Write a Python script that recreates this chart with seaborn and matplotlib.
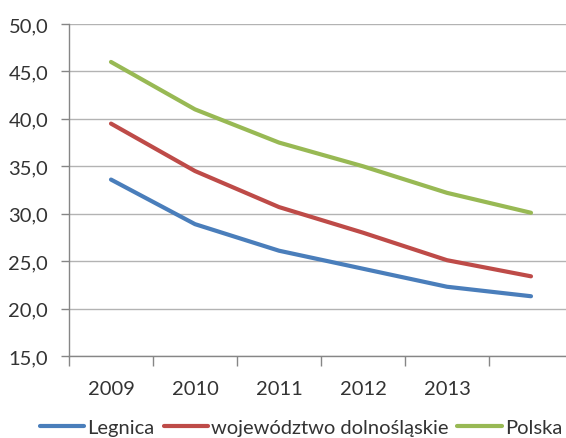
import matplotlib
matplotlib.use("Agg")
import matplotlib.pyplot as plt
import seaborn as sns
import pandas as pd
import numpy as np

categories = ["2009", "2010", "2011", "2012", "2013", ""]
legnica = [33.6, 28.9, 26.1, 24.2, 22.3, 21.3]
dolnoslaskie = [39.5, 34.5, 30.7, 28.0, 25.1, 23.4]
polska = [46.0, 41.0, 37.5, 35.0, 32.2, 30.1]
series_names = ["Legnica", "województwo dolnośląskie", "Polska"]
colors = ["#4A7EBB", "#BE4B48", "#98B954"]
yticks = [15, 20, 25, 30, 35, 40, 45, 50]

sns.set_theme(style="white")
plt.rcParams["font.family"] = ["Lato", "DejaVu Sans"]

rows = []
for name, vals in zip(series_names, [legnica, dolnoslaskie, polska]):
    for i, v in enumerate(vals):
        rows.append({"idx": i, "value": v, "series": name})
df = pd.DataFrame(rows)

fig = plt.figure(figsize=(5.66, 4.39), dpi=100)
W, H = 566, 439
left, right, top, bottom = 69, 573, 25, 357
ax = fig.add_axes([left / W, 1 - bottom / H, (right - left) / W, (bottom - top) / H])

sns.lineplot(data=df, x="idx", y="value", hue="series", hue_order=series_names,
             palette=colors, linewidth=3, ax=ax, legend=True)

n = len(categories)
ax.set_xlim(-0.5, n - 0.5)
ax.set_ylim(15, 50)
ax.set_yticks(yticks)
ax.set_yticklabels([f"{v:.1f}".replace(".", ",") for v in yticks])
ax.yaxis.grid(True, color="#B3B3B3", linewidth=1)
ax.set_axisbelow(True)

fs = 14.5
ax.set_xticks(np.arange(n + 1) - 0.5)
ax.set_xticklabels([])
ax.set_xticks(np.arange(n), minor=True)
ax.set_xticklabels(categories, minor=True)
ax.tick_params(axis="x", which="major", length=7, width=1, color="#868686", direction="out", bottom=True)
ax.tick_params(axis="x", which="minor", length=0, pad=17, labelsize=fs, labelcolor="#333333")
ax.tick_params(axis="y", length=6, width=1, color="#868686", direction="out", left=True, pad=9,
               labelsize=fs, labelcolor="#333333")

for s in ["top", "right"]:
    ax.spines[s].set_visible(False)
for s in ["left", "bottom"]:
    ax.spines[s].set_color("#868686")
    ax.spines[s].set_linewidth(1)

ax.set_xlabel("")
ax.set_ylabel("")
handles, labels = ax.get_legend_handles_labels()
ax.get_legend().remove()
fig.legend(handles, labels, loc="center", bbox_to_anchor=(301 / W, 1 - 428 / H), ncol=3,
           frameon=False, fontsize=fs, handlelength=2.2, handletextpad=0.15, columnspacing=0.45,
           labelcolor="#333333", borderpad=0)

fig.savefig("out.png", dpi=100)
